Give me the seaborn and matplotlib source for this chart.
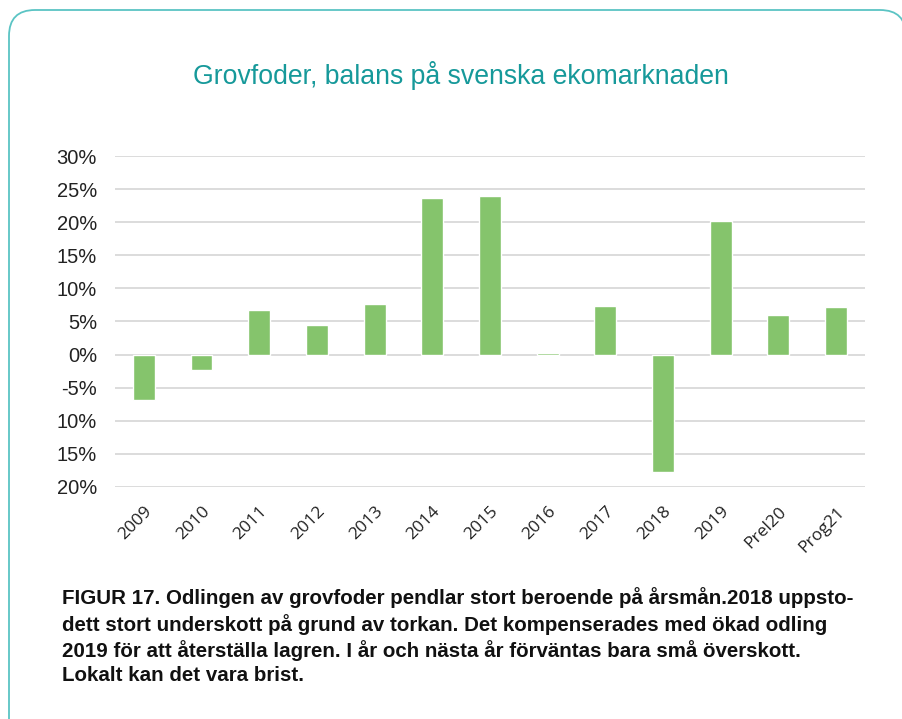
import matplotlib.pyplot as plt
import seaborn as sns
import pandas as pd
from matplotlib.patches import FancyBboxPatch
from matplotlib.ticker import FixedLocator

# Balance per year (percent)
years = ["2009", "2010", "2011", "2012", "2013", "2014", "2015",
         "2016", "2017", "2018", "2019", "Prel20", "Prog21"]
balance = [-6.9, -2.4, 6.8, 4.4, 7.7, 23.7, 24.0,
           0.3, 7.3, -17.8, 20.2, 6.0, 7.2]
ytick_values = [30, 25, 20, 15, 10, 5, 0, -5, -10, -15, -20]
ytick_labels = ["30%", "25%", "20%", "15%", "10%", "5%", "0%",
                "-5%", "10%", "15%", "20%"]

title = "Grovfoder, balans på svenska ekomarknaden"
caption = ("FIGUR 17. Odlingen av grovfoder pendlar stort beroende på årsmån.2018 uppsto-\n"
           "dett stort underskott på grund av torkan. Det kompenserades med ökad odling\n"
           "2019 för att återställa lagren. I år och nästa år förväntas bara små överskott.\n"
           "Lokalt kan det vara brist.")

df = pd.DataFrame({"year": years, "balance": balance})

sns.set_theme(style="white")
plt.rcParams["font.family"] = ["Liberation Sans", "DejaVu Sans"]

W, H = 903, 719
fig = plt.figure(figsize=(W / 100, H / 100), dpi=100)

# Background axes in pixel units for the rounded teal frame
bg = fig.add_axes([0, 0, 1, 1])
bg.set_xlim(0, W)
bg.set_ylim(0, H)
bg.axis("off")
box = FancyBboxPatch((9, -40), 897, H - 10 + 40,
                     boxstyle="round,pad=0,rounding_size=26")
outline = box.get_path().to_polygons()[0]  # curves -> line segments
bg.plot(outline[:, 0], outline[:, 1], color="#5bc4c4", linewidth=1.3)

ax = fig.add_axes([115 / W, 1 - 487 / H, 750 / W, (487 - 156) / H])
sns.barplot(data=df, x="year", y="balance", color="#85c46c", saturation=1,
            width=0.38, ax=ax)

ax.set_ylim(-20, 30)
ax.yaxis.set_major_locator(FixedLocator(ytick_values))
ax.set_yticklabels(ytick_labels, fontsize=14.5, color="#222222")
ax.set_xticks(range(len(years)))
ax.set_xticklabels(years, rotation=45, ha="right", rotation_mode="anchor",
                   fontsize=12.5, family=["Open Sans", "DejaVu Sans"], color="#222222")
ax.tick_params(axis="y", length=0, pad=13)
ax.tick_params(axis="x", length=0, pad=12)
ax.set_xlabel("")
ax.set_ylabel("")
ax.grid(axis="y", color="#d9d9d9", linewidth=1.3)
ax.set_axisbelow(True)
for s in ax.spines.values():
    s.set_visible(False)

fig.text(461 / W, 1 - 76 / H, title, ha="center", va="center",
         fontsize=19.2, color="#16999a")
fig.text(62 / W, 1 - 587 / H, caption, ha="left", va="top", fontsize=14.8,
         fontweight="bold", color="#111111", linespacing=1.33)

fig.savefig("out.png", dpi=100)
